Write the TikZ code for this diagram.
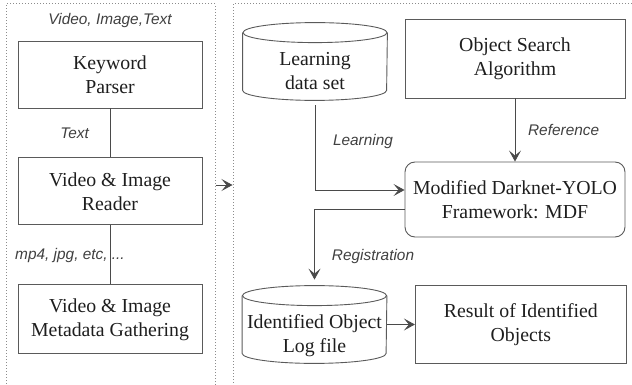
\documentclass[tikz,border=0pt]{standalone}
\usepackage{fontspec}
\setmainfont{Liberation Serif}
\setsansfont{Liberation Sans}
\usetikzlibrary{positioning, arrows.meta}
\definecolor{lineGray}{HTML}{4A4A4A}
\definecolor{borderGray}{HTML}{5A5A5A}
\definecolor{panelGray}{HTML}{8C8C8C}
\definecolor{textMain}{HTML}{1E1E1E}
\definecolor{textLabel}{HTML}{404040}
\newcommand{\dblabel}[1]{\raisebox{-8.25pt}[0pt][0pt]{\begin{tabular}{@{}c@{}}#1\end{tabular}}}
\tikzset{
  stepbox/.style={
    draw=borderGray, line width=0.45pt, inner sep=1pt,
    minimum width=92pt, minimum height=33.5pt,
    font=\fontsize{9.9}{12}\selectfont, text=textMain, align=center,
  },
  roundbox/.style={
    stepbox, rounded corners=5pt, minimum width=110pt, minimum height=37.5pt,
  },
  dbnode/.style={
    rectangle, inner sep=0pt,
    minimum width=72pt, minimum height=38.5pt,
    font=\fontsize{9.9}{12}\selectfont, text=textMain,
  },
  dbline/.style={
    draw=borderGray, line width=0.45pt,
  },
  panel/.style={
    draw=panelGray, densely dotted, line width=0.5pt, inner sep=0pt,
  },
  flowlabel/.style={
    font=\sffamily\itshape\fontsize{7.7}{9}\selectfont, text=textLabel,
  },
  plainline/.style={
    draw=lineGray, line width=0.45pt,
  },
  stdarrow/.style={
    plainline, -{Stealth[length=5.5pt, width=6pt, inset=2.5pt]},
  },
}

\begin{document}
\begin{tikzpicture}[x=0.5pt, y=-0.5pt]
  \clip (0,0) rectangle (632,385);

  % === Panels ===
  \node[panel, minimum width=104.5pt, minimum height=194pt] (leftpanel) at (110.5,198) {};
  \node[panel, minimum width=206pt, minimum height=194pt] (rightpanel) at (439,198) {};

  % === Input side (left panel) ===
  \node[flowlabel] (inputs) at (110,21) {Video, Image,Text};
  \node[stepbox] (parser) at (110,74.5) {Keyword\\Parser};
  \node[stepbox, below=24.5pt of parser] (reader) {Video \& Image\\Reader};
  \node[stepbox, below=29.5pt of reader, minimum height=34.5pt] (meta) {Video \& Image\\Metadata Gathering};

  \draw[plainline] (parser) -- node[flowlabel, left=7pt] {Text} (reader);
  \draw[plainline] (reader) -- (meta);
  \node[flowlabel] (formats) at (70,256) {mp4, jpg, etc, ...};

  % === Panel link ===
  \draw[stdarrow] ([yshift=6.5pt]leftpanel.east) -- ([yshift=6.5pt]rightpanel.west);

  % === Detection side (right panel) ===
  \node[dbnode] (learnset) at (315,61.5) {\dblabel{Learning\\data set}};
  \node[stepbox, minimum width=110pt, minimum height=39.5pt] (search) at (515,58.5) {Object Search\\Algorithm};
  \node[roundbox] (mdf) at (515,199.5) {Modified Darknet-YOLO\\Framework: MDF};
  \node[dbnode] (idlog) at (314.5,324.5) {\dblabel{Identified Object\\Log file}};
  \node[stepbox, minimum width=105.5pt, minimum height=39pt, right=14pt of idlog] (result) {Result of Identified\\Objects};

  % cylinder outlines for the two stores
  \foreach \db in {learnset, idlog} {
    \draw[dbline] ([yshift=-5pt]\db.north) ellipse [x radius=36pt, y radius=5pt];
    \draw[dbline] ([yshift=-5pt]\db.north west) -- ([yshift=5pt]\db.south west)
      arc [start angle=180, end angle=360, x radius=36pt, y radius=5pt]
      -- ([yshift=-5pt]\db.north east);
  }

  % === Arrows ===
  \draw[stdarrow] (search) -- node[flowlabel, right=3pt] {Reference} (mdf);
  \draw[stdarrow, shorten <=2.5pt] (learnset.south) |- ([yshift=4.75pt]mdf.west);
  \draw[stdarrow, shorten >=3pt] ([yshift=-4.75pt]mdf.west) -| (idlog.north);
  \draw[stdarrow] (idlog) -- (result);

  \node[flowlabel] (learnlabel) at (363,142) {Learning};
  \node[flowlabel] (reglabel) at (373,257) {Registration};

\end{tikzpicture}
\end{document}
